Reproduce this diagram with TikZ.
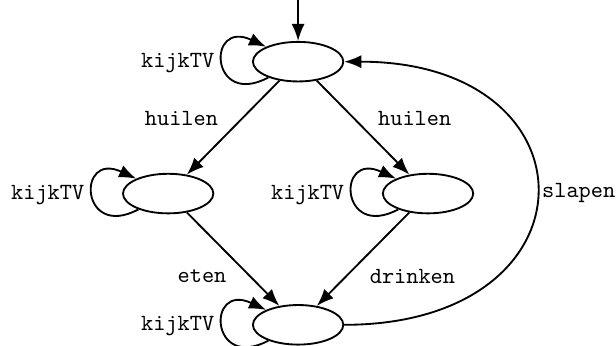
\documentclass[tikz,border=0pt]{standalone}
\usetikzlibrary{arrows.meta,positioning,shapes.geometric}

\begin{document}
\begin{tikzpicture}[
  font=\ttfamily,
  node distance=2.0cm and 1.97cm, on grid,
  state/.style={
    ellipse, draw, thick,
    minimum width=1.37cm, minimum height=0.6cm
  },
  arrow/.style={
    -{Latex[length=2.6mm,width=2mm]}, thick
  },
  tvloop/.style={
    out=208, in=155, looseness=5.5
  }
]
\useasboundingbox (0,0) rectangle (9.34,5.245);

% States
\node[state] (start) at (4.52,4.31) {};
\node[state, below left=of start] (huilL) {};
\node[state, below right=of start] (huilR) {};
\node[state, below=3.99cm of start] (vol) {};

\coordinate (init) at (4.52,5.245);

% Arrows
\draw[arrow] (init) -- (start);

\draw[arrow] (start) -- node[above left, pos=0.57] {huilen} (huilL);
\draw[arrow] (start) -- node[above right, pos=0.57] {huilen} (huilR);
\draw[arrow] (huilL) -- node[below left, pos=0.52] {eten} (vol);
\draw[arrow] (huilR) -- node[below right, pos=0.52] {drinken} (vol);

\draw[arrow] (vol.east) to[out=0, in=0, looseness=2.5]
  node[right, inner sep=2pt] {slapen} (start.east);

% Self loops
\foreach \s in {start, huilL, huilR, vol}
  \draw[arrow] (\s) to[tvloop] node[left] {kijkTV} (\s);

\end{tikzpicture}
\end{document}
